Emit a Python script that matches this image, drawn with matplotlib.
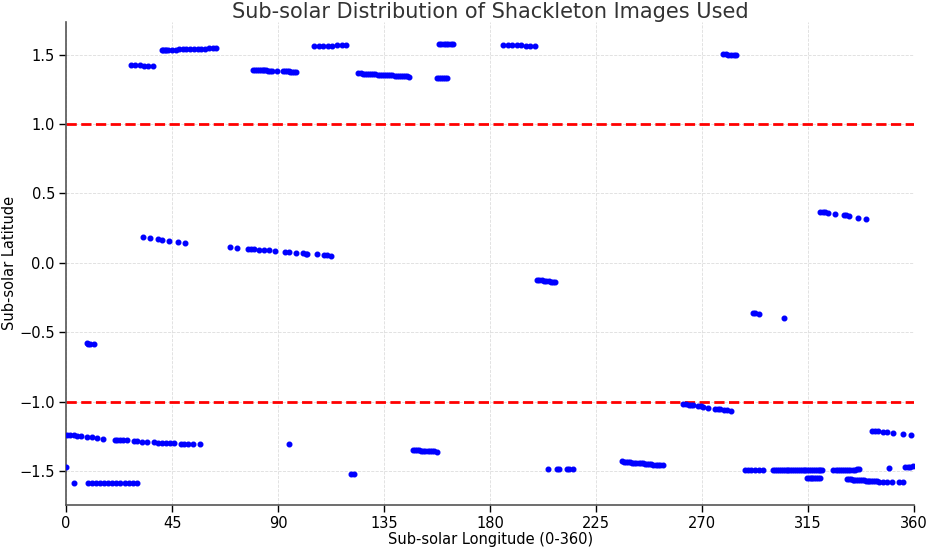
import matplotlib
matplotlib.use("Agg")
import matplotlib.pyplot as plt

# sub-solar points above the +1 line
north_lon = [27.5, 29.3, 31.2, 33.0, 34.8, 36.7,
             40.6, 41.2, 41.9, 42.6, 43.4, 45.0, 46.5, 48.0, 49.5, 51.0, 52.6, 54.2, 55.8, 57.4, 59.0, 60.6, 62.2, 63.8,
             79.4, 80.2, 81.0, 81.8, 82.6, 83.4, 84.2, 85.0, 85.8, 86.6, 87.4, 89.4,
             92.0, 92.8, 93.6, 94.4, 95.2, 96.0, 96.8, 97.6,
             105.3, 107.2, 109.2, 111.1, 113.0, 114.9, 116.9, 118.8,
             124.1, 125.0, 125.9, 126.8, 127.7, 128.6, 129.5, 130.4, 131.3, 132.2, 133.1, 134.0, 134.9,
             135.8, 136.7, 137.6, 138.5, 139.4, 140.3, 141.2, 142.1, 143.0, 143.9, 144.8, 145.7,
             158.3, 159.3, 160.3, 161.3, 162.3, 163.3, 164.3,
             157.5, 158.3, 159.1, 159.9, 160.7, 161.5,
             185.5, 187.4, 189.3, 191.3, 193.2, 195.1, 197.1, 199.0,
             279.0, 280.0, 281.0, 282.4, 283.4, 284.4]
north_lat = [1.423, 1.422, 1.421, 1.420, 1.419, 1.418,
             1.530, 1.531, 1.532, 1.533, 1.534, 1.535, 1.536, 1.537, 1.538, 1.539, 1.540, 1.541, 1.541, 1.542, 1.543, 1.544, 1.544, 1.545,
             1.388, 1.388, 1.387, 1.387, 1.386, 1.386, 1.385, 1.385, 1.384, 1.384, 1.383, 1.381,
             1.379, 1.379, 1.378, 1.378, 1.377, 1.376, 1.376, 1.375,
             1.564, 1.564, 1.565, 1.565, 1.565, 1.566, 1.566, 1.566,
             1.365, 1.364, 1.363, 1.362, 1.361, 1.360, 1.359, 1.358, 1.357, 1.356, 1.355, 1.354, 1.353,
             1.352, 1.351, 1.350, 1.349, 1.348, 1.347, 1.346, 1.345, 1.344, 1.343, 1.342, 1.341,
             1.577, 1.577, 1.577, 1.577, 1.577, 1.577, 1.577,
             1.332, 1.331, 1.331, 1.330, 1.330, 1.329,
             1.570, 1.569, 1.568, 1.567, 1.566, 1.565, 1.564, 1.563,
             1.501, 1.501, 1.500, 1.500, 1.499, 1.499]

# sub-solar points between the two lines
mid_lon = [32.5, 35.6, 38.8, 40.6, 43.7, 47.7, 50.6,
           69.6, 72.7, 77.0, 78.4, 79.9, 81.9, 84.0, 86.0, 88.7, 93.0, 94.8, 97.6, 100.7, 101.7, 102.4,
           106.5, 109.5, 110.7, 112.4,
           8.8, 9.5, 10.2, 12.0,
           199.8, 200.8, 201.8, 202.8, 203.8, 204.8, 205.8, 206.8, 207.6,
           291.5, 292.3, 293.9, 304.6,
           320.0, 321.2, 322.2, 323.3, 326.3, 330.0, 331.1, 332.3, 336.2, 339.4]
mid_lat = [0.186, 0.176, 0.169, 0.164, 0.159, 0.152, 0.145,
           0.111, 0.108, 0.100, 0.098, 0.096, 0.094, 0.092, 0.090, 0.087, 0.080, 0.078, 0.073, 0.069, 0.067, 0.066,
           0.060, 0.055, 0.054, 0.048,
           -0.580, -0.581, -0.582, -0.587,
           -0.123, -0.125, -0.127, -0.129, -0.131, -0.133, -0.135, -0.137, -0.140,
           -0.362, -0.364, -0.370, -0.400,
           0.367, 0.367, 0.365, 0.362, 0.355, 0.343, 0.341, 0.338, 0.326, 0.319]

# sub-solar points below the -1 line
south_lon = [0.28, 1.70, 3.40, 4.81, 6.23, 9.05, 10.90, 13.02, 15.85, 20.80, 21.79, 22.92, 24.34, 26.03, 28.86,
             30.28, 32.12, 34.52, 37.35, 39.19, 40.61, 42.45, 44.14, 45.84, 48.67, 50.08, 51.92, 53.76, 56.88,
             94.4,
             0.0, 3.4, 9.1, 10.8, 12.6, 14.3, 16.1, 17.8, 19.5, 21.3, 23.0, 24.8, 26.5, 28.3, 30.0,
             121.0, 122.0,
             147.1, 148.0, 148.9, 149.8, 150.7, 151.6, 152.5, 153.4, 154.3, 155.2, 156.3, 157.3,
             204.7, 208.3, 209.4, 212.5, 213.6, 215.3,
             235.8, 236.7, 237.6, 238.5, 239.4, 240.3, 241.2, 242.1, 243.0, 243.9, 244.8, 245.7, 246.6, 247.5,
             248.4, 249.3, 250.2, 251.1, 252.2, 253.3,
             262.0, 263.2, 264.2, 265.2, 266.0, 268.4, 269.4, 270.5, 272.6, 275.5, 276.5, 277.6, 279.1, 280.4, 282.1,
             288.2, 289.5, 290.8, 292.5, 294.0, 295.7,
             300.2, 301.0, 301.8, 302.6, 303.4, 304.2, 305.0, 305.8, 306.6, 307.4, 308.2, 309.0, 309.8, 310.6,
             311.4, 312.2, 313.0, 313.8, 314.6, 315.4, 316.2, 317.0, 317.8, 318.6, 319.4, 320.2, 321.0,
             314.4, 315.2, 316.0, 316.8, 317.6, 318.4, 319.2, 320.0,
             325.7, 326.6, 327.5, 328.4, 329.3, 330.2, 331.1, 332.0, 332.9, 333.8, 334.7, 335.7, 336.7,
             331.4, 332.2, 333.0, 333.8, 334.6, 335.4, 336.2, 337.0, 337.8, 338.6, 339.4, 340.2, 341.0, 341.8,
             342.6, 343.4, 344.2, 345.0, 346.9, 348.3, 350.5, 353.7, 355.4,
             342.0, 343.4, 344.8, 346.9, 348.3, 350.9, 355.1, 358.5,
             349.2, 356.0, 357.2, 358.3, 359.5]
south_lat = [-1.239, -1.240, -1.242, -1.244, -1.246, -1.253, -1.255, -1.258, -1.268, -1.273, -1.274, -1.275, -1.276, -1.278, -1.283,
             -1.285, -1.287, -1.290, -1.292, -1.294, -1.295, -1.297, -1.298, -1.300, -1.302, -1.303, -1.304, -1.305, -1.307,
             -1.307,
             -1.469, -1.585, -1.585, -1.585, -1.585, -1.585, -1.585, -1.585, -1.585, -1.585, -1.585, -1.585, -1.585, -1.585, -1.585,
             -1.524, -1.522,
             -1.348, -1.349, -1.350, -1.351, -1.352, -1.353, -1.354, -1.355, -1.356, -1.357, -1.358, -1.360,
             -1.488, -1.487, -1.487, -1.487, -1.487, -1.487,
             -1.430, -1.432, -1.433, -1.435, -1.436, -1.438, -1.439, -1.441, -1.442, -1.444, -1.445, -1.447, -1.448, -1.450,
             -1.451, -1.453, -1.454, -1.456, -1.457, -1.459,
             -1.017, -1.019, -1.022, -1.024, -1.026, -1.031, -1.034, -1.036, -1.048, -1.051, -1.053, -1.056, -1.058, -1.063, -1.065,
             -1.495, -1.495, -1.495, -1.495, -1.495, -1.495,
             -1.494, -1.494, -1.494, -1.494, -1.494, -1.494, -1.494, -1.494, -1.494, -1.494, -1.494, -1.494, -1.494, -1.494,
             -1.494, -1.494, -1.494, -1.494, -1.494, -1.494, -1.494, -1.494, -1.494, -1.494, -1.494, -1.494, -1.494,
             -1.546, -1.547, -1.547, -1.548, -1.548, -1.549, -1.549, -1.550,
             -1.493, -1.493, -1.492, -1.492, -1.491, -1.491, -1.490, -1.490, -1.489, -1.489, -1.489, -1.488, -1.488,
             -1.558, -1.559, -1.560, -1.561, -1.562, -1.563, -1.564, -1.565, -1.566, -1.567, -1.568, -1.569, -1.570, -1.571,
             -1.572, -1.573, -1.574, -1.575, -1.577, -1.578, -1.579, -1.580, -1.581,
             -1.208, -1.210, -1.212, -1.215, -1.217, -1.222, -1.232, -1.239,
             -1.481, -1.473, -1.470, -1.468, -1.466]

lon = north_lon + mid_lon + south_lon
lat = north_lat + mid_lat + south_lat

fig = plt.figure(figsize=(9.31, 5.47), dpi=100)
ax = fig.add_axes([0.071, 0.077, 0.911, 0.883])

ax.scatter(lon, lat, s=11, color='blue', zorder=3)
ax.axhline(1, color='red', linestyle='--', linewidth=2, zorder=2)
ax.axhline(-1, color='red', linestyle='--', linewidth=2, zorder=2)

ax.set_xlim(0, 360)
ax.set_xticks(range(0, 361, 45))
ax.set_title('Sub-solar Distribution of Shackleton Images Used', fontsize=15, color='#333333', pad=3)
ax.set_xlabel('Sub-solar Longitude (0-360)', fontsize=10.5, labelpad=1)
ax.set_ylabel('Sub-solar Latitude', fontsize=10.5, labelpad=2)
ax.grid(True, linestyle='--', linewidth=0.6, color='#dddddd', zorder=0)
ax.tick_params(labelsize=10.5, length=5, width=1, pad=3)
for side in ['top', 'right']:
    ax.spines[side].set_visible(False)
for side in ['left', 'bottom']:
    ax.spines[side].set_color('#555555')
    ax.spines[side].set_linewidth(1.2)

fig.savefig('out.png', dpi=100)
